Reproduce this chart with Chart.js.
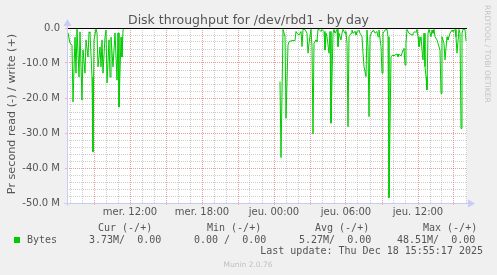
<!DOCTYPE html>
<html><head><meta charset="utf-8">
<script src="https://cdn.jsdelivr.net/npm/chart.js@4/dist/chart.umd.min.js"></script>
<style>html,body{margin:0;padding:0;background:#f0f0f0;overflow:hidden}</style>
</head><body>
<canvas id="c" width="497" height="275"></canvas>
<script>
// ---- data ----
const titleText = 'Disk throughput for /dev/rbd1 - by day';
const yAxisTitle = 'Pr second read (-) / write (+)';
const sideText = 'RRDTOOL / TOBI OETIKER';
const startHour = 6.75;          // Wed 06:45, first 5-minute sample
const spanHours = 400 / 12;      // 400 samples of 5 minutes
const xTickHours = [12, 18, 24, 30, 36];
const xTickLabels = ['mer. 12:00', 'mer. 18:00', 'jeu. 00:00', 'jeu. 06:00', 'jeu. 12:00'];
const yTickValues = [0, -10, -20, -30, -40, -50];
const yTickLabels = ['0.0', '-10.0 M', '-20.0 M', '-30.0 M', '-40.0 M', '-50.0 M'];
// [5-minute sample index, read bytes/s in M (drawn negative)]
const readSegment1 = [[0,-6.3],[1,-1.4],[3,-4.3],[5,-4.9],[6,-21.1],[8,-2.6],[9,-12.9],[10,-0.3],[12,-14.0],[13,-1.1],[15,-20.6],[16,-6.3],[18,-12.9],[19,-3.4],[21,-8.3],[22,-1.1],[23,-1.4],[25,-14.0],[26,-35.4],[27,-3.4],[29,-0.3],[30,-1.4],[31,-11.1],[33,-5.4],[34,-11.1],[35,-3.4],[36,-12.9],[38,-2.6],[39,-0.6],[40,-15.7],[42,-3.4],[43,-14.0],[44,-2.6],[46,-11.1],[47,-6.3],[48,-1.4],[50,-14.9],[51,-1.4],[52,-22.6],[54,-2.6],[55,-8.3],[56,-0.6],[57,0]];
const readSegment2 = [[213,-15.3],[214,-37.0],[216,-0.4],[217,-0.4],[218,-2.5],[219,-25.8],[221,-4.9],[222,-3.9],[223,-3.9],[225,-3.6],[226,-3.6],[228,-3.6],[229,-1.0],[230,-1.5],[232,-2.0],[233,-1.5],[234,-1.0],[235,-5.3],[236,-0.4],[238,-0.4],[240,-1.5],[241,-7.2],[242,-4.4],[244,-0.4],[245,-5.3],[246,-30.3],[247,-4.4],[249,-3.4],[250,-3.9],[251,-0.4],[252,-0.4],[254,-1.0],[255,-0.4],[257,-1.0],[258,-6.3],[259,-1.5],[260,-2.5],[262,-7.2],[263,-1.0],[264,-27.2],[266,-1.5],[267,-0.4],[268,-1.5],[270,-0.4],[271,-5.3],[272,-1.5],[274,-3.4],[275,-1.5],[276,-0.4],[278,-1.5],[279,-1.0],[280,-4.4],[281,-28.2],[282,-2.5],[284,-1.5],[285,-0.6],[286,-1.5],[288,-1.0],[289,-2.0],[290,-1.3],[292,-0.6],[293,-1.5],[295,-2.5],[296,-7.2],[297,-11.0],[299,-13.9],[300,-0.6],[301,-5.3],[302,-25.3],[303,-2.5],[305,-1.0],[306,-0.6],[307,-0.8],[308,-1.5],[310,-1.0],[311,-2.5],[312,-0.6],[314,-5.3],[315,-12.9],[316,-1.5],[318,-0.6],[320,-0.4],[321,-2.5],[322,-48.5],[324,-8.2],[326,-7.7],[327,-8.0],[328,-7.7],[330,-7.4],[331,-8.2],[332,-7.5],[334,-8.0],[335,-7.2],[336,-6.3],[337,-5.8],[338,-10.6],[339,-4.4],[340,-0.4],[342,-1.5],[343,-1.5],[345,-2.0],[346,-1.5],[348,-1.0],[349,-1.3],[350,-0.4],[351,-2.5],[352,-5.3],[354,-2.5],[355,-6.3],[356,-9.1],[357,-1.5],[358,-11.0],[359,-13.9],[360,-17.7],[361,-1.5],[362,-0.4],[364,-2.5],[365,-0.6],[366,-1.5],[367,-0.4],[368,-2.5],[370,-3.4],[371,-4.4],[373,-6.3],[374,-18.7],[375,-2.5],[377,-4.4],[378,-9.1],[380,-2.5],[381,-3.4],[383,-1.5],[385,-0.6],[386,-1.0],[388,-0.4],[389,-2.5],[390,-7.2],[392,-0.4],[393,-1.5],[394,-28.7],[395,-1.5],[396,-0.4],[398,-0.4],[399,-3.7]];
const seriesName = 'Bytes';
const legendHeaders = ['Cur (-/+)', 'Min (-/+)', 'Avg (-/+)', 'Max (-/+)'];
const legendValues = ['3.73M/  0.00', '0.00 /  0.00', '5.27M/  0.00', '48.51M/  0.00'];
const lastUpdate = 'Last update: Thu Dec 18 15:55:17 2025';
const versionText = 'Munin 2.0.76';

// ---- build ----
const toPoint = ([i, v]) => ({ x: startHour + i * 5 / 60, y: v });
const points = readSegment1.map(toPoint)
  .concat([{ x: startHour + 135 * 5 / 60, y: null }])
  .concat(readSegment2.map(toPoint));

const xMin = startHour, xMax = startHour + spanHours;
const majorGrid = 'rgba(255,95,95,0.45)';
const minorGrid = 'rgba(140,140,140,0.42)';
const tickFont = { family: 'DejaVu Sans', size: 10 };
const txt = '#555555';

function stepTicks(scale, from, to, step) {
  const t = [];
  for (let v = Math.ceil(from / step) * step; v <= to + 1e-9; v += step) t.push({ value: v });
  scale.ticks = t;
}

const bgPlugin = {
  id: 'bg',
  beforeDraw(chart) {
    const { ctx, chartArea: a } = chart;
    ctx.save();
    ctx.fillStyle = '#f0f0f0';
    ctx.fillRect(0, 0, chart.width, chart.height);
    ctx.fillStyle = '#ffffff';
    ctx.fillRect(a.left, a.top, a.right - a.left, a.bottom - a.top);
    ctx.restore();
  }
};

const decoPlugin = {
  id: 'deco',
  afterDatasetsDraw(chart) {
    const { ctx, chartArea: a } = chart;
    const y0 = Math.round(chart.scales.y.getPixelForValue(0)) + 0.5;
    ctx.save();
    ctx.strokeStyle = '#000';
    ctx.lineWidth = 1;
    ctx.beginPath(); ctx.moveTo(a.left, y0); ctx.lineTo(a.right, y0); ctx.stroke();
    // axes
    const axisCol = '#c8ccf4';
    ctx.strokeStyle = axisCol;
    const yb = Math.round(a.bottom) + 0.5, xl = Math.round(a.left) + 0.5;
    ctx.beginPath(); ctx.moveTo(a.left - 3, yb); ctx.lineTo(a.right + 2, yb); ctx.stroke();
    ctx.beginPath(); ctx.moveTo(xl, a.bottom + 3); ctx.lineTo(xl, a.top - 3); ctx.stroke();
    ctx.fillStyle = axisCol;
    ctx.beginPath(); ctx.moveTo(a.right + 1, yb - 4); ctx.lineTo(a.right + 8, yb); ctx.lineTo(a.right + 1, yb + 4); ctx.closePath(); ctx.fill();
    ctx.beginPath(); ctx.moveTo(xl - 4, a.top - 2); ctx.lineTo(xl, a.top - 9); ctx.lineTo(xl + 4, a.top - 2); ctx.closePath(); ctx.fill();
    ctx.restore();
  },
  afterDraw(chart) {
    const { ctx } = chart;
    ctx.save();
    ctx.fillStyle = txt;
    ctx.textBaseline = 'alphabetic';
    ctx.font = '12.5px "DejaVu Sans"';
    ctx.textAlign = 'center';
    ctx.fillText(titleText, 248.5, 24);
    // y axis title
    ctx.save();
    ctx.translate(15, 114);
    ctx.rotate(-Math.PI / 2);
    ctx.font = '11.2px "DejaVu Sans"';
    ctx.textAlign = 'center';
    ctx.fillText(yAxisTitle, 0, 0);
    ctx.restore();
    // side text
    ctx.save();
    ctx.translate(485, 5);
    ctx.rotate(Math.PI / 2);
    ctx.font = '7.6px "DejaVu Sans"';
    ctx.fillStyle = '#c4c4c4';
    ctx.textAlign = 'left';
    ctx.fillText(sideText, 0, 0);
    ctx.restore();
    // legend
    ctx.fillStyle = '#00cc00';
    ctx.fillRect(14, 237, 6, 6);
    ctx.fillStyle = txt;
    ctx.font = '10px "DejaVu Sans Mono"';
    ctx.textAlign = 'left';
    ctx.fillText(seriesName, 27, 243);
    const hx = [98, 207, 315, 423];
    const vx = [89, 194, 299, 397];
    legendHeaders.forEach((h, i) => ctx.fillText(h, hx[i], 231));
    legendValues.forEach((v, i) => ctx.fillText(v, vx[i], 243));
    ctx.textAlign = 'right';
    ctx.fillText(lastUpdate, 483, 254);
    ctx.textAlign = 'center';
    ctx.font = '7.5px "DejaVu Sans"';
    ctx.fillStyle = '#c0c0c0';
    ctx.fillText(versionText, 248, 267);
    ctx.restore();
  }
};

new Chart(document.getElementById('c'), {
  type: 'line',
  data: {
    datasets: [{
      label: seriesName,
      data: points,
      borderColor: '#00cc00',
      borderWidth: 1,
      pointRadius: 0,
      tension: 0,
      spanGaps: false,
      fill: false
    }]
  },
  options: {
    responsive: false,
    animation: false,
    devicePixelRatio: 1,
    parsing: true,
    layout: { padding: { left: 0, top: 28, right: 30, bottom: 0 } },
    plugins: { legend: { display: false }, title: { display: false }, tooltip: { enabled: false } },
    scales: {
      xMinor: {
        type: 'linear', position: 'bottom', min: xMin, max: xMax,
        afterBuildTicks: s => stepTicks(s, xMin, xMax, 1),
        afterFit: s => { s.height = 0; },
        ticks: { display: false },
        grid: { color: minorGrid, borderDash: [1, 1], drawTicks: false, z: -1 },
        border: { display: false, dash: [1, 1] }
      },
      x: {
        type: 'linear', position: 'bottom', min: xMin, max: xMax,
        afterBuildTicks: s => stepTicks(s, xMin, xMax, 3),
        afterFit: s => { s.height = 72; },
        ticks: {
          autoSkip: false, maxRotation: 0, padding: 1, color: txt, font: tickFont,
          callback: v => { const k = xTickHours.indexOf(v); return k >= 0 ? xTickLabels[k] : ''; }
        },
        grid: { color: majorGrid, borderDash: [1, 1], drawTicks: true, tickLength: 2, tickBorderDash: [], tickColor: majorGrid },
        border: { display: false, dash: [1, 1] }
      },
      yMinor: {
        type: 'linear', position: 'left', min: -50, max: 0,
        afterBuildTicks: s => stepTicks(s, -50, 0, 2),
        afterFit: s => { s.width = 0; },
        ticks: { display: false },
        grid: { color: minorGrid, borderDash: [1, 1], drawTicks: false, z: -1 },
        border: { display: false, dash: [1, 1] }
      },
      y: {
        type: 'linear', position: 'left', min: -50, max: 0,
        afterBuildTicks: s => { s.ticks = yTickValues.map(v => ({ value: v })); },
        afterFit: s => { s.width = 67; },
        ticks: {
          padding: 5, color: txt, font: tickFont,
          callback: v => { const k = yTickValues.indexOf(v); return k >= 0 ? yTickLabels[k] : ''; }
        },
        grid: { color: majorGrid, borderDash: [1, 1], drawTicks: true, tickLength: 2, tickBorderDash: [], tickColor: majorGrid },
        border: { display: false, dash: [1, 1] }
      }
    }
  },
  plugins: [bgPlugin, decoPlugin]
});
</script>
</body></html>
